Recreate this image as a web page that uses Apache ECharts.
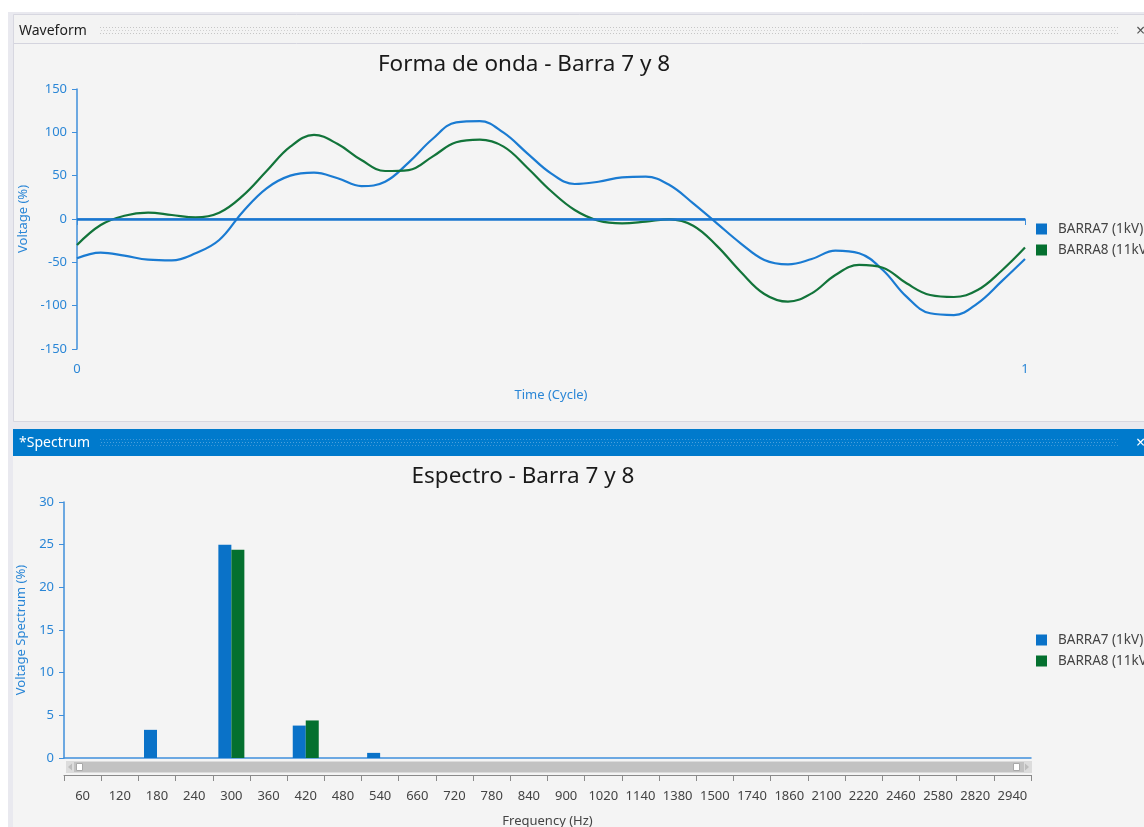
<!DOCTYPE html>
<html>
<head>
<meta charset="utf-8">
<title>Forma de onda / Espectro - Barra 7 y 8</title>
<script src="https://cdn.jsdelivr.net/npm/echarts@6/dist/echarts.min.js"></script>
<style>
  html, body { margin: 0; padding: 0; background: #ffffff; }
  #chart { width: 1144px; height: 827px; }
</style>
</head>
<body>
<div id="chart"></div>
<script>
// Series names
const seriesNames = ['BARRA7 (1kV)', 'BARRA8 (11kV)'];

// Waveform over one cycle, sampled every 1/40 cycle: time (cycle) and voltage (%)
const waveTime = [0, 0.025, 0.05, 0.075, 0.1, 0.125, 0.15, 0.175, 0.2, 0.225,
                  0.25, 0.275, 0.3, 0.325, 0.35, 0.375, 0.4, 0.425, 0.45, 0.475,
                  0.5, 0.525, 0.55, 0.575, 0.6, 0.625, 0.65, 0.675, 0.7, 0.725,
                  0.75, 0.775, 0.8, 0.825, 0.85, 0.875, 0.9, 0.925, 0.95, 0.975, 1.0];
const barra7Wave = [-45.4, -38.8, -42.3, -46.9, -47.7, -39.6, -24.2, 8.5, 35.4, 50,
                    53.5, 47, 38, 43, 65.4, 92.3, 111.5, 113, 99.6, 75.8,
                    52.7, 40.4, 43, 48, 48.8, 39.2, 18, -5, -28, -47.3,
                    -52.3, -46.2, -36.5, -39.6, -58.8, -89.6, -108.8, -110.8, -97.3, -72.3, -46.2];
const barra8Wave = [-30, -6.9, 3.8, 7.3, 4.6, 1.9, 7.3, 27, 55.4, 83.5,
                    97, 86.5, 68, 55.4, 56.5, 72, 88.5, 91.5, 83.5, 59.2,
                    32.3, 10.4, -1.9, -5, -3, -0.4, -7.7, -31, -60.8, -86.5,
                    -95.4, -85.8, -64.6, -53, -56.2, -74.2, -87.7, -90, -82, -60, -33];

// Harmonic spectrum: frequency (Hz) and voltage spectrum (%)
const freqLabels = ['60', '120', '180', '240', '300', '360', '420', '480', '540', '660', '720', '780', '840', '900', '1020', '1140', '1380', '1500', '1740', '1860', '2100', '2220', '2460', '2580', '2820', '2940'];
const barra7Spec = [0, 0, 3.3, 0, 25.0, 0, 3.8, 0, 0.6, 0, 0, 0, 0, 0, 0, 0, 0, 0, 0, 0, 0, 0, 0, 0, 0, 0];
const barra8Spec = [0, 0, 0, 0, 24.4, 0, 4.4, 0, 0, 0, 0, 0, 0, 0, 0, 0, 0, 0, 0, 0, 0, 0, 0, 0, 0, 0];

const BLUE = '#0a72c8';
const GREEN = '#04702f';
const AXIS_BLUE = '#3f8fdb';
const LABEL_BLUE = '#2a86d6';
const FONT = '"Noto Sans", "Open Sans", sans-serif';

const zip = (xs, ys) => xs.map((x, i) => [x, ys[i]]);

// Window chrome: two docked panels with headers
function dots(x1, x2, y, color) {
  return {
    type: 'line', silent: true, z: -5,
    shape: { x1: x1, y1: y, x2: x2, y2: y },
    style: { stroke: color, lineWidth: 1, lineDash: [1, 2] }
  };
}
const chrome = [
  { type: 'rect', silent: true, z: -10, shape: { x: 0, y: 0, width: 1144, height: 827 }, style: { fill: '#ffffff' } },
  { type: 'rect', silent: true, z: -9, shape: { x: 8, y: 12, width: 1136, height: 815 }, style: { fill: '#e9e9ef' } },
  // Waveform panel
  { type: 'rect', silent: true, z: -8, shape: { x: 13.5, y: 14.5, width: 1140, height: 407 }, style: { fill: '#f4f4f4', stroke: '#d7d7e0', lineWidth: 1 } },
  { type: 'rect', silent: true, z: -7, shape: { x: 14, y: 15, width: 1140, height: 28 }, style: { fill: '#f3f3f3' } },
  { type: 'line', silent: true, z: -6, shape: { x1: 14, y1: 43.5, x2: 1144, y2: 43.5 }, style: { stroke: '#d4d4de', lineWidth: 1 } },
  dots(100, 1118, 27.5, '#c6c6c6'),
  dots(101, 1118, 30.5, '#d0d0d0'),
  dots(100, 1118, 33.5, '#c6c6c6'),
  { type: 'text', silent: true, z: -5, x: 19, y: 31, style: { text: 'Waveform', font: '14px ' + FONT, fill: '#1e1e1e', verticalAlign: 'middle' } },
  { type: 'text', silent: true, z: -5, x: 1136, y: 31, style: { text: '×', font: '16px ' + FONT, fill: '#555555', verticalAlign: 'middle' } },
  // Spectrum panel
  { type: 'rect', silent: true, z: -8, shape: { x: 13, y: 429, width: 1140, height: 27 }, style: { fill: '#007acc' } },
  { type: 'rect', silent: true, z: -8, shape: { x: 13, y: 456, width: 1140, height: 371 }, style: { fill: '#f4f4f4' } },
  dots(100, 1118, 439.5, '#3f98d8'),
  dots(101, 1118, 442.5, '#4aa0dc'),
  dots(100, 1118, 445.5, '#3f98d8'),
  { type: 'text', silent: true, z: -5, x: 19, y: 443, style: { text: '*Spectrum', font: '14px ' + FONT, fill: '#ffffff', verticalAlign: 'middle' } },
  { type: 'text', silent: true, z: -5, x: 1136, y: 443, style: { text: '×', font: '16px ' + FONT, fill: '#ffffff', verticalAlign: 'middle' } },
  // Horizontal scroll bar under the spectrum plot
  { type: 'rect', silent: true, z: -4, shape: { x: 66, y: 761, width: 966, height: 12 }, style: { fill: '#dcdcdc' } },
  { type: 'rect', silent: true, z: -3, shape: { x: 74, y: 762, width: 950, height: 10 }, style: { fill: '#c2c2c2' } },
  { type: 'polygon', silent: true, z: -3, shape: { points: [[72, 763.5], [72, 770.5], [68, 767]] }, style: { fill: '#bdbdbd' } },
  { type: 'polygon', silent: true, z: -3, shape: { points: [[1025, 763.5], [1025, 770.5], [1029, 767]] }, style: { fill: '#bdbdbd' } },
  { type: 'rect', silent: true, z: -2, shape: { x: 76.5, y: 763.5, width: 6, height: 7 }, style: { fill: '#ffffff', stroke: '#a8a8a8', lineWidth: 1 } },
  { type: 'rect', silent: true, z: -2, shape: { x: 1013.5, y: 763.5, width: 6, height: 7 }, style: { fill: '#ffffff', stroke: '#a8a8a8', lineWidth: 1 } }
];

const blueAxisCommon = {
  axisLine: { show: true, lineStyle: { color: AXIS_BLUE, width: 1.5 } },
  axisTick: { show: true, length: 5, lineStyle: { color: AXIS_BLUE } },
  axisLabel: { color: LABEL_BLUE, fontSize: 13, fontFamily: FONT, margin: 10 },
  splitLine: { show: false },
  nameTextStyle: { color: LABEL_BLUE, fontSize: 13, fontFamily: FONT }
};

const legendCommon = {
  data: seriesNames, orient: 'vertical', left: 1036, padding: 0,
  itemWidth: 11, itemHeight: 11, itemGap: 7, icon: 'rect', selectedMode: false,
  textStyle: { color: '#444444', fontSize: 13.5, fontFamily: FONT, padding: [0, 0, 0, 6] }
};

const chart = echarts.init(document.getElementById('chart'), null, { renderer: 'canvas' });
chart.setOption({
  animation: false,
  backgroundColor: 'transparent',
  graphic: chrome,
  color: [BLUE, GREEN],
  title: [
    { text: 'Forma de onda - Barra 7 y 8', left: 519, top: 48, textAlign: 'center',
      textStyle: { fontSize: 22.5, fontWeight: 'normal', color: '#1a1a1a', fontFamily: FONT } },
    { text: 'Espectro - Barra 7 y 8', left: 518, top: 460, textAlign: 'center',
      textStyle: { fontSize: 22.5, fontWeight: 'normal', color: '#1a1a1a', fontFamily: FONT } }
  ],
  legend: [
    Object.assign({}, legendCommon, { top: 222 }),
    Object.assign({}, legendCommon, { top: 633 })
  ],
  grid: [
    { left: 77, top: 89, width: 948, height: 260, containLabel: false, outerBoundsMode: 'none' },
    { left: 64, top: 502, width: 967, height: 256, containLabel: false, outerBoundsMode: 'none' }
  ],
  xAxis: [
    Object.assign({}, blueAxisCommon, {
      type: 'value', gridIndex: 0, min: 0, max: 1, interval: 1,
      name: 'Time (Cycle)', nameLocation: 'middle', nameGap: 40,
      axisTick: { show: true, length: 6, lineStyle: { color: AXIS_BLUE } },
      axisLabel: Object.assign({}, blueAxisCommon.axisLabel, { margin: 14 })
    }),
    {
      type: 'category', gridIndex: 1, data: freqLabels,
      axisLine: { show: true, lineStyle: { color: AXIS_BLUE, width: 1.5 } },
      axisTick: { show: false }, axisLabel: { show: false }, splitLine: { show: false }
    },
    {
      type: 'category', gridIndex: 1, data: freqLabels, position: 'bottom', offset: 17,
      axisLine: { show: true, lineStyle: { color: '#8a8a8a', width: 1 } },
      axisTick: { show: true, length: 6, interval: 0, lineStyle: { color: '#8a8a8a' } },
      axisLabel: { interval: 0, color: '#444444', fontSize: 13, fontFamily: FONT, margin: 15 },
      name: 'Frequency (Hz)', nameLocation: 'middle', nameGap: 40,
      nameTextStyle: { color: '#444444', fontSize: 13, fontFamily: FONT }
    }
  ],
  yAxis: [
    Object.assign({}, blueAxisCommon, {
      type: 'value', gridIndex: 0, min: -150, max: 150, interval: 50,
      name: 'Voltage (%)', nameLocation: 'middle', nameGap: 47
    }),
    Object.assign({}, blueAxisCommon, {
      type: 'value', gridIndex: 1, min: 0, max: 30, interval: 5,
      name: 'Voltage Spectrum (%)', nameLocation: 'middle', nameGap: 34
    })
  ],
  series: [
    {
      name: seriesNames[0], type: 'line', xAxisIndex: 0, yAxisIndex: 0,
      data: zip(waveTime, barra7Wave), smooth: 0.4, showSymbol: false,
      lineStyle: { color: '#1a7bd2', width: 2.2 }, itemStyle: { color: BLUE },
      z: 3,
      markLine: {
        silent: true, symbol: 'none', label: { show: false },
        lineStyle: { color: '#1a76cf', width: 2.5, type: 'solid' },
        data: [{ yAxis: 0 }]
      }
    },
    {
      name: seriesNames[1], type: 'line', xAxisIndex: 0, yAxisIndex: 0,
      data: zip(waveTime, barra8Wave), smooth: 0.4, showSymbol: false,
      lineStyle: { color: '#12743a', width: 2.2 }, itemStyle: { color: GREEN },
      z: 3
    },
    {
      name: seriesNames[0], type: 'bar', xAxisIndex: 1, yAxisIndex: 1,
      data: barra7Spec, barWidth: 13, barGap: '0%',
      itemStyle: { color: BLUE }
    },
    {
      name: seriesNames[1], type: 'bar', xAxisIndex: 1, yAxisIndex: 1,
      data: barra8Spec, barWidth: 13, barGap: '0%',
      itemStyle: { color: GREEN }
    }
  ]
});
</script>
</body>
</html>
